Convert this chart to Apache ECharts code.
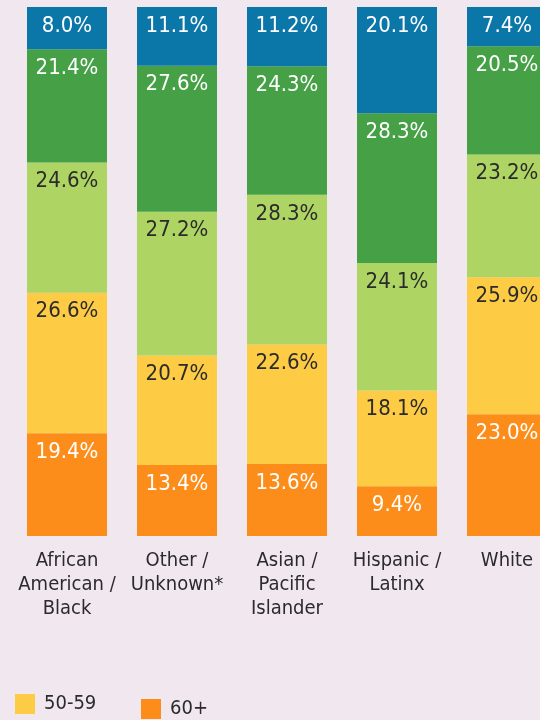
<!DOCTYPE html>
<html><head><meta charset="utf-8">
<script src="https://cdn.jsdelivr.net/npm/echarts@6/dist/echarts.min.js"></script>
<style>html,body{margin:0;padding:0;background:#f1e7ef;}#c{width:540px;height:720px;}</style>
</head><body><div id="c"></div>
<script>
var categories = ['African\nAmerican /\nBlack', 'Other /\nUnknown*', 'Asian /\nPacific\nIslander', 'Hispanic /\nLatinx', 'White'];
var age60plus = [19.4, 13.4, 13.6, 9.4, 23.0];
var age50to59 = [26.6, 20.7, 22.6, 18.1, 25.9];
var age40to49 = [24.6, 27.2, 28.3, 24.1, 23.2];
var age30to39 = [21.4, 27.6, 24.3, 28.3, 20.5];
var ageUnder30 = [8.0, 11.1, 11.2, 20.1, 7.4];

var FONT = "'Liberation Sans Narrow','DejaVu Sans Condensed','Roboto Condensed',sans-serif";
function mk(name, data, color, labelColor) {
  return {
    name: name, type: 'bar', stack: 'a', data: data, barWidth: 80,
    itemStyle: { color: color },
    label: { show: true, position: 'insideTop', distance: 8, color: labelColor,
      fontFamily: FONT, fontSize: 22,
      formatter: function (p) { return p.value.toFixed(1) + '%'; } }
  };
}
var chart = echarts.init(document.getElementById('c'));
chart.setOption({
  backgroundColor: '#f1e7ef',
  animation: false,
  grid: { left: 12, width: 550, top: 7, bottom: 184, outerBoundsMode: 'none', containLabel: false },
  xAxis: { type: 'category', data: categories,
    axisLine: { show: false }, axisTick: { show: false },
    axisLabel: { interval: 0, margin: 13, color: '#2b2b2b', fontFamily: FONT, fontSize: 20, lineHeight: 24 } },
  yAxis: { type: 'value', min: 0, max: 100, show: false, splitLine: { show: false } },
  legend: [
    { data: ['50-59'], left: 15, top: 694, padding: 0, itemWidth: 20, itemHeight: 20, itemGap: 9, icon: 'rect',
      textStyle: { color: '#2b2b2b', fontFamily: FONT, fontSize: 20, padding: [4, 0, 0, 4] } },
    { data: ['60+'], left: 141, top: 699, padding: 0, itemWidth: 20, itemHeight: 20, icon: 'rect',
      textStyle: { color: '#2b2b2b', fontFamily: FONT, fontSize: 20, padding: [0, 0, 0, 4] } }
  ],
  series: [
    mk('60+', age60plus, '#fd8d1a', '#ffffff'),
    mk('50-59', age50to59, '#fecb45', '#2b2b2b'),
    mk('40-49', age40to49, '#aed563', '#2b2b2b'),
    mk('30-39', age30to39, '#45a046', '#ffffff'),
    mk('Under 30', ageUnder30, '#0b76a8', '#ffffff')
  ]
});
</script></body></html>
